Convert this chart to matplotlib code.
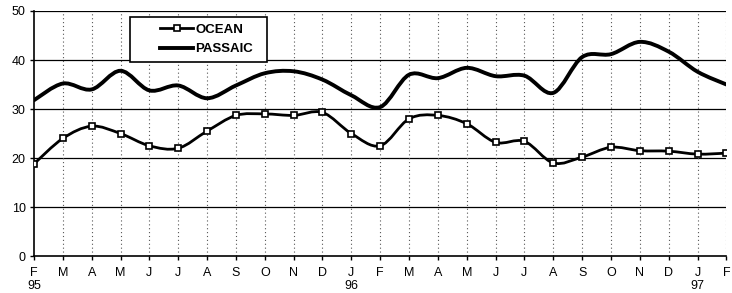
import numpy as np
import matplotlib.pyplot as plt
from matplotlib.path import Path
from matplotlib.patches import PathPatch, Rectangle
from matplotlib.lines import Line2D

# month labels, Feb 95 .. Feb 97
months = ["F", "M", "A", "M", "J", "J", "A", "S", "O", "N", "D",
          "J", "F", "M", "A", "M", "J", "J", "A", "S", "O", "N", "D",
          "J", "F"]
years = {0: "95", 11: "96", 23: "97"}

ocean = [18.8, 24.0, 26.5, 25.0, 22.5, 22.0, 25.5, 28.7, 29.0, 28.7, 29.3,
         25.0, 22.5, 28.0, 28.7, 27.0, 23.2, 23.4, 19.0, 20.2, 22.2, 21.5,
         21.4, 20.8, 21.0]
passaic = [31.8, 35.2, 34.0, 37.8, 33.8, 34.8, 32.2, 34.8, 37.3, 37.7, 36.0,
           32.8, 30.4, 37.0, 36.3, 38.4, 36.7, 36.8, 33.3, 40.6, 41.2, 43.7,
           41.7, 37.6, 35.0]


def smooth_path(x, y, t=1 / 6):
    """Bezier path through the points, like a spreadsheet smoothed line."""
    pts = np.column_stack([x, y]).astype(float)
    verts = [pts[0]]
    codes = [Path.MOVETO]
    n = len(pts)
    for i in range(n - 1):
        p0 = pts[i - 1] if i > 0 else pts[i]
        p1 = pts[i]
        p2 = pts[i + 1]
        p3 = pts[i + 2] if i + 2 < n else pts[i + 1]
        c1 = p1 + (p2 - p0) * t
        c2 = p2 - (p3 - p1) * t
        verts += [c1, c2, p2]
        codes += [Path.CURVE4] * 3
    return Path(verts, codes)


plt.rcParams["font.family"] = ["Liberation Sans", "DejaVu Sans"]

fig = plt.figure(figsize=(7.32, 2.93), dpi=100)
ax = fig.add_axes([0.0464, 0.126, 0.946, 0.8365])

x = np.arange(len(months))

# grid
for v in range(10, 51, 10):
    ax.axhline(v, color="black", lw=0.9, zorder=1)
for xi in x[1:]:
    ax.axvline(xi, color="#555555", lw=0.8, ls=(0, (1, 2.5)), zorder=1)

ax.add_patch(PathPatch(smooth_path(x, passaic), fill=False, lw=2.8,
                       edgecolor="black", capstyle="round", zorder=3))
ax.add_patch(PathPatch(smooth_path(x, ocean), fill=False, lw=2.0,
                       edgecolor="black", capstyle="round", zorder=3))
ax.plot(x, ocean, ls="none", marker="s", ms=5, mfc="white", mec="black",
        mew=1.2, zorder=4)

ax.set_xlim(0, 24)
ax.set_ylim(0, 50)
ax.set_yticks(range(0, 51, 10))
ax.set_xticks(x)
ax.set_xticklabels(months)
ax.tick_params(axis="x", length=3, width=1, pad=5, labelsize=9)
ax.tick_params(axis="y", length=3, width=1, pad=3, labelsize=9)

for k, lab in years.items():
    ax.text(k, -0.124, lab, transform=ax.get_xaxis_transform(),
            ha="center", va="center", fontsize=9)

for s in ["top", "right"]:
    ax.spines[s].set_visible(False)
ax.spines["left"].set_linewidth(1.2)
ax.spines["bottom"].set_linewidth(1.2)

# legend box
ax.add_patch(Rectangle((0.1385, 0.792), 0.1975, 0.1835, transform=ax.transAxes,
                       facecolor="white", edgecolor="black", lw=1.2, zorder=5))
handles = [
    Line2D([], [], color="black", lw=2.0, marker="s", ms=5, mfc="white",
           mec="black", mew=1.2),
    Line2D([], [], color="black", lw=2.8),
]
leg = ax.legend(handles, ["OCEAN", "PASSAIC"], loc="upper left",
                bbox_to_anchor=(0.173, 0.975), frameon=False,
                handlelength=2.5, handletextpad=0.15,
                borderpad=0, labelspacing=0.55,
                prop={"weight": "bold", "size": 9.5})
leg.set_zorder(6)

fig.savefig("out.png", dpi=100)
